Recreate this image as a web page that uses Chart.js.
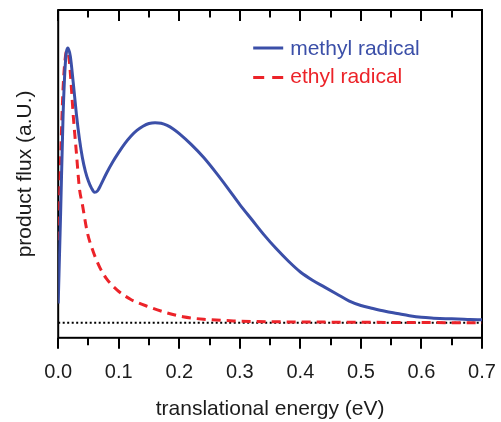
<!DOCTYPE html>
<html>
<head>
<meta charset="utf-8">
<script src="https://cdn.jsdelivr.net/npm/chart.js@4.4.1/dist/chart.umd.min.js"></script>
<style>
html,body{margin:0;padding:0;background:#fff;}
#wrap{width:501px;height:422px;position:relative;}
</style>
</head>
<body>
<div id="wrap"><canvas id="c" width="501" height="422"></canvas></div>
<script>
// ---- data ----
const methylEnergy = [0.000,0.004,0.008,0.012,0.016,0.020,0.025,0.030,0.035,0.040,0.045,0.050,0.055,0.060,0.065,0.070,0.080,0.090,0.100,0.110,0.120,0.130,0.140,0.150,0.160,0.170,0.180,0.190,0.200,0.220,0.240,0.260,0.280,0.300,0.320,0.340,0.360,0.380,0.400,0.420,0.440,0.460,0.480,0.500,0.520,0.540,0.560,0.580,0.600,0.620,0.640,0.660,0.680,0.700];
const methylFlux   = [0.07,0.40,0.75,0.95,1.00,0.97,0.87,0.76,0.67,0.60,0.55,0.515,0.49,0.475,0.48,0.50,0.545,0.585,0.62,0.652,0.679,0.70,0.715,0.725,0.728,0.726,0.718,0.705,0.688,0.648,0.602,0.548,0.49,0.43,0.375,0.32,0.27,0.225,0.185,0.155,0.13,0.105,0.08,0.063,0.052,0.042,0.034,0.026,0.020,0.017,0.015,0.014,0.012,0.011];

const ethylEnergy = [0.000,0.004,0.008,0.012,0.015,0.018,0.021,0.025,0.030,0.035,0.040,0.048,0.056,0.069,0.080,0.097,0.120,0.150,0.180,0.206,0.240,0.290,0.350,0.400,0.500,0.600,0.700];
const ethylFlux   = [0.30,0.60,0.85,0.97,0.99,0.96,0.88,0.75,0.62,0.49,0.43,0.33,0.27,0.20,0.16,0.12,0.085,0.058,0.036,0.022,0.013,0.007,0.004,0.003,0.002,0.001,0.0];

const baselineEnergy = [0.0, 0.7];
const baselineFlux   = [0.0, 0.0];

const seriesNames = ["methyl radical", "ethyl radical"];
const xTickValues = [0.0,0.1,0.2,0.3,0.4,0.5,0.6,0.7];
const xTickLabels = ["0.0","0.1","0.2","0.3","0.4","0.5","0.6","0.7"];
const xMinorTicks = [0.05,0.15,0.25,0.35,0.45,0.55,0.65];
const xTitle = "translational energy (eV)";
const yTitle = "product flux (a.U.)";

// ---- styling ----
const BLUE = "#3b4fa8";
const RED = "#ec2329";
const TEXT = "#1c1c1c";
const FONT = "'Liberation Sans', Arial, sans-serif";

const pts = (xs, ys) => xs.map((x, i) => ({x: x, y: ys[i]}));

const framePlugin = {
  id: "frame",
  beforeDatasetsDraw(chart) {
    const {ctx, chartArea: a, scales} = chart;
    const xs = scales.x;
    ctx.save();
    ctx.strokeStyle = "#000";
    ctx.lineWidth = 2;
    ctx.strokeRect(a.left, a.top, a.right - a.left, a.bottom - a.top);
    const drawTick = (v, len) => {
      const px = Math.round(xs.getPixelForValue(v));
      ctx.beginPath();
      ctx.moveTo(px, a.bottom); ctx.lineTo(px, a.bottom + len);
      ctx.moveTo(px, a.top); ctx.lineTo(px, a.top + len);
      ctx.stroke();
    };
    xTickValues.forEach(v => drawTick(v, 11));
    xMinorTicks.forEach(v => drawTick(v, 7.5));
    ctx.restore();
  },
  afterDraw(chart) {
    const {ctx, chartArea: a} = chart;
    ctx.save();
    ctx.font = "21px " + FONT;
    ctx.textBaseline = "alphabetic";
    ctx.textAlign = "left";
    const items = [
      {ds: chart.data.datasets[0], y: 48, ty: 55, dash: []},
      {ds: chart.data.datasets[1], y: 77.5, ty: 83, dash: [11, 8]}
    ];
    items.forEach(it => {
      ctx.strokeStyle = it.ds.borderColor;
      ctx.lineWidth = 3;
      ctx.setLineDash(it.dash);
      ctx.beginPath();
      ctx.moveTo(a.left + 195, it.y);
      ctx.lineTo(a.left + 225, it.y);
      ctx.stroke();
      ctx.setLineDash([]);
      ctx.fillStyle = it.ds.borderColor;
      ctx.fillText(it.ds.label, a.left + 232, it.ty);
    });
    ctx.restore();
  }
};

new Chart(document.getElementById("c"), {
  type: "line",
  data: {
    datasets: [
      {label: seriesNames[0], data: pts(methylEnergy, methylFlux), borderColor: BLUE, borderWidth: 3,
       pointRadius: 0, cubicInterpolationMode: "monotone", fill: false},
      {label: seriesNames[1], data: pts(ethylEnergy, ethylFlux), borderColor: RED, borderWidth: 3,
       borderDash: [9, 6], pointRadius: 0, cubicInterpolationMode: "monotone", fill: false},
      {label: "baseline", data: pts(baselineEnergy, baselineFlux), borderColor: "#000", borderWidth: 2,
       borderDash: [2, 2.5], pointRadius: 0, fill: false, order: 5}
    ]
  },
  options: {
    responsive: false,
    animation: false,
    devicePixelRatio: 1,
    layout: {padding: {top: 10, right: 19, left: 0, bottom: 0}},
    plugins: {legend: {display: false}, tooltip: {enabled: false}},
    scales: {
      x: {
        type: "linear", min: 0, max: 0.7,
        grid: {display: true, drawOnChartArea: false, drawTicks: true, tickLength: 23, color: "rgba(0,0,0,0)"},
        border: {display: false},
        afterBuildTicks: s => { s.ticks = xTickValues.map(v => ({value: v})); },
        ticks: {
          padding: 0, color: TEXT, maxRotation: 0, autoSkip: false,
          font: {family: FONT, size: 20},
          callback: (v) => { const i = xTickValues.findIndex(t => Math.abs(t - v) < 1e-9); return i >= 0 ? xTickLabels[i] : ""; }
        },
        title: {display: true, text: xTitle, color: TEXT, padding: {top: 12, bottom: 0},
          font: {family: FONT, size: 21}}
      },
      y: {
        type: "linear", min: -0.0545, max: 1.138,
        grid: {display: false, drawTicks: false},
        border: {display: false},
        ticks: {display: false},
        title: {display: true, text: yTitle, color: TEXT, padding: {top: 13, bottom: 20},
          font: {family: FONT, size: 21}}
      }
    }
  },
  plugins: [framePlugin]
});
</script>
</body>
</html>
